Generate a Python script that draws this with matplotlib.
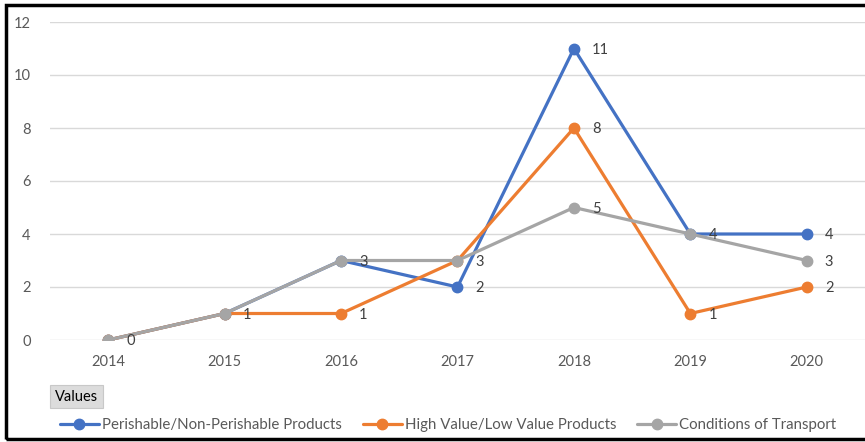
import matplotlib
matplotlib.use("Agg")
import matplotlib.pyplot as plt
from matplotlib.patches import Rectangle

plt.rcParams['font.family'] = ['Lato', 'DejaVu Sans']

years = ["2014", "2015", "2016", "2017", "2018", "2019", "2020"]
perishable = [0, 1, 3, 2, 11, 4, 4]
high_value = [0, 1, 1, 3, 8, 1, 2]
transport = [0, 1, 3, 3, 5, 4, 3]
series_names = ["Perishable/Non-Perishable Products", "High Value/Low Value Products", "Conditions of Transport"]
colors = ["#4472C4", "#ED7D31", "#A5A5A5"]

W, H = 865, 442
fig = plt.figure(figsize=(W / 100, H / 100), dpi=100)
fig.patch.set_facecolor("white")

ax = fig.add_axes([50 / W, 1 - 340 / H, (W - 50) / W, (340 - 22) / H])
ax.set_facecolor("white")
x = list(range(len(years)))
handles = []
seen = set()
for vals, name, c in zip([perishable, high_value, transport], series_names, colors):
    ln, = ax.plot(x, vals, color=c, lw=2.3, marker="o", markersize=7.5,
                  solid_capstyle="round", zorder=3, label=name)
    handles.append(ln)
    for xi, v in zip(x, vals):
        if (xi, v) in seen:
            continue
        seen.add((xi, v))
        ax.annotate(str(v), (xi, v), xytext=(13, -1), textcoords="offset points",
                    ha="left", va="center", fontsize=10.5, color="#404040", zorder=4)

ax.set_xlim(-0.5, len(years) - 0.5)
ax.set_ylim(0, 12)
ax.set_yticks(range(0, 13, 2))
ax.set_xticks(x)
ax.set_xticklabels(years)
ax.grid(axis="y", color="#D9D9D9", lw=1)
ax.set_axisbelow(True)
for s in ax.spines.values():
    s.set_visible(False)
ax.tick_params(length=0, colors="#595959", labelsize=10.5)
ax.tick_params(axis="x", pad=11)
ax.tick_params(axis="y", pad=14)

# Values button
fig.patches.append(Rectangle((50 / W, 1 - 408 / H), 53 / W, 23 / H, transform=fig.transFigure,
                             facecolor="#DCDCDC", edgecolor="#C8C8C8", lw=0.8, zorder=1))
fig.text(76.5 / W, 1 - 397 / H, "Values", ha="center", va="center", fontsize=10.5,
         color="black", zorder=6)

leg = fig.legend(handles=handles, loc="center", bbox_to_anchor=(448 / W, 1 - 425 / H),
                 ncol=3, frameon=False, fontsize=10.8, handlelength=2.6, handletextpad=0.2,
                 columnspacing=1.4, labelcolor="#595959")

# border
fig.patches.append(Rectangle((6 / W, 1 - 439 / H), 1.0, (439 - 5) / H, transform=fig.transFigure,
                             facecolor="none", edgecolor="black", lw=2.5, zorder=10))

fig.savefig("out.png", dpi=100, facecolor="white")
